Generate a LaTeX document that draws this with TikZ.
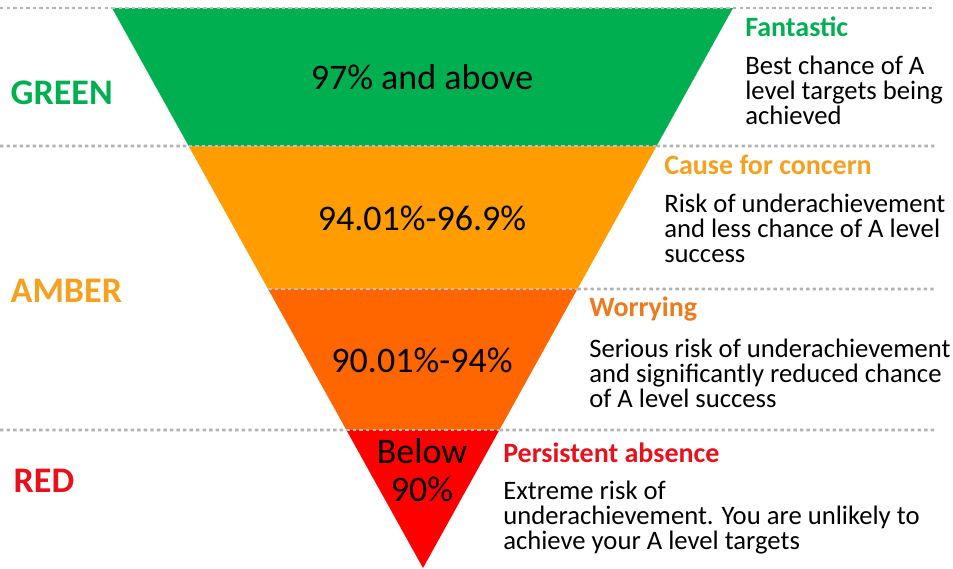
\documentclass[tikz,border=0pt]{standalone}
\usepackage{fontspec}
\setmainfont{Carlito}
\usetikzlibrary{calc}

\definecolor{attgreen}{HTML}{00B050}
\definecolor{attamber}{HTML}{FF9C00}
\definecolor{attorange}{HTML}{FF6600}
\definecolor{attred}{HTML}{FF0000}
\definecolor{txtamber}{HTML}{F5A01E}
\definecolor{txtorange}{HTML}{EE7A1E}
\definecolor{txtred}{HTML}{E8101A}

\begin{document}
\begin{tikzpicture}[x=0.75pt,y=-0.75pt,
    rag/.style={font=\bfseries\fontsize{27}{30}\selectfont,anchor=west},
    band/.style={font=\fontsize{27}{28}\selectfont,align=center},
    head/.style={font=\bfseries\fontsize{21}{24}\selectfont,anchor=west,inner sep=0pt},
    note/.style={font=\fontsize{20}{18.75}\selectfont,anchor=west,align=left,inner sep=0pt},
    guide/.style={black!30,line width=2.2pt,dash pattern=on 2.6pt off 2.3pt},
    seam/.style={white!75!black,line width=1.2pt,dash pattern=on 2.6pt off 2.3pt}]
    \useasboundingbox (0,0) rectangle (953,568);

    % funnel corners
    \coordinate (tl) at (112,8);
    \coordinate (tr) at (733,8);
    \coordinate (tip) at (423,568);
    % band edges
    \coordinate (l1) at ($(tl)!0.2464!(tip)$);
    \coordinate (r1) at ($(tr)!0.2464!(tip)$);
    \coordinate (l2) at ($(tl)!0.5018!(tip)$);
    \coordinate (r2) at ($(tr)!0.5018!(tip)$);
    \coordinate (l3) at ($(tl)!0.7536!(tip)$);
    \coordinate (r3) at ($(tr)!0.7536!(tip)$);

    \begin{scope}
        \clip (tl) -- (tr) -- (tip) -- cycle;
        \fill[attgreen] (100,0) rectangle (750,146);
        \fill[attamber] (100,146) rectangle (750,289);
        \fill[attorange] (100,289) rectangle (750,430);
        \fill[attred] (100,430) rectangle (750,570);
    \end{scope}

    % dotted guide lines
    \draw[guide] (0,8) -- (tl);
    \draw[seam] (tl) -- (tr);
    \draw[guide] (tr) -- (935,8);
    \draw[guide] (0,146) -- (l1);
    \draw[seam] (l1) -- (r1);
    \draw[guide] (r1) -- (935,146);
    \draw[seam] (l2) -- (r2);
    \draw[guide] (r2) -- (935,289);
    \draw[guide] (0,430) -- (l3);
    \draw[seam] (l3) -- (r3);
    \draw[guide] (r3) -- (935,430);

    \node[rag,text=attgreen] (green) at (6,93) {GREEN};
    \node[rag,text=txtamber] (amber) at (6,291) {AMBER};
    \node[rag,text=txtred] (red) at (9,481) {RED};

    \node[band] (b1) at (422,77) {97\% and above};
    \node[band] (b2) at (422,218) {94.01\%-96.9\%};
    \node[band] (b3) at (422,360) {90.01\%-94\%};
    \node[band] (b4) at (422,470) {Below\\90\%};

    \node[head,text=attgreen] (h1) at (745,27) {Fantastic};
    \node[note] (n1) at (745,90) {Best chance of A\\level targets being\\achieved};
    \node[head,text=txtamber] (h2) at (664,165) {Cause for concern};
    \node[note] (n2) at (664,228) {Risk of underachievement\\and less chance of A level\\success};
    \node[head,text=txtorange] (h3) at (589,309) {Worrying};
    \node[note] (n3) at (589,373) {Serious risk of underachievement\\and significantly reduced chance\\of A level success};
    \node[head,text=txtred] (h4) at (503,453) {Persistent absence};
    \node[note] (n4) at (503,518) {Extreme risk of\\underachievement. You are unlikely to\\achieve your A level targets};
\end{tikzpicture}
\end{document}
